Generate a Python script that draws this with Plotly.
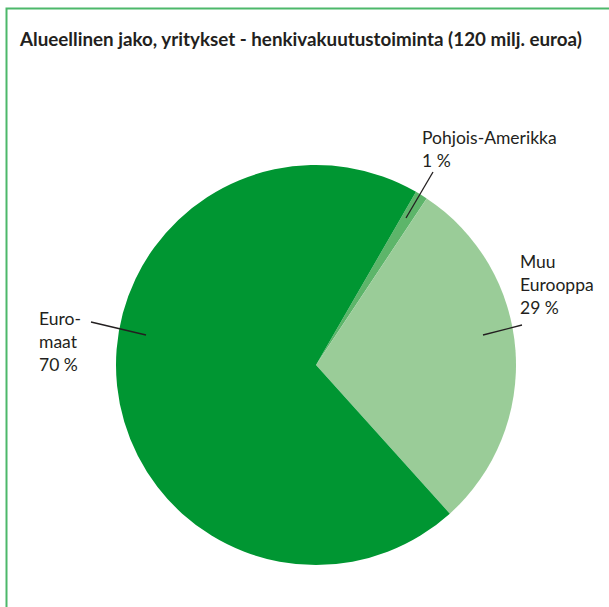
import plotly.graph_objects as go

# Slice data (clockwise from the first slice)
regions = ["Pohjois-Amerikka", "Muu Eurooppa", "Euro-maat"]
shares = [1, 29, 70]
colors = ["#5db56a", "#9acc98", "#009632"]

# Label texts as printed next to the pie
label_texts = ["Pohjois-Amerikka<br>1 %", "Muu<br>Eurooppa<br>29 %", "Euro-<br>maat<br>70 %"]

W, H = 609, 607


def px(x, y):
    # pixel position in the screenshot -> paper coordinates
    return x / W, 1 - y / H


fig = go.Figure()
dx0, dy0 = px(116, 565)
dx1, dy1 = px(516, 165)
fig.add_trace(go.Pie(
    labels=regions,
    values=shares,
    sort=False,
    direction="clockwise",
    rotation=30,
    marker=dict(colors=colors, line=dict(width=0)),
    textinfo="none",
    hoverinfo="label+percent",
    showlegend=False,
    domain=dict(x=[dx0, dx1], y=[dy0, dy1]),
))

# label positions (top-left of text block) and leader lines, in pixels
label_pos = [(420, 125), (518, 249), (37, 306)]
leaders = [((433, 172), (406, 218)), ((522, 325), (483, 335)), ((91, 322), (146, 335))]

for txt, (lx, ly) in zip(label_texts, label_pos):
    x, y = px(lx, ly)
    fig.add_annotation(x=x, y=y, xref="paper", yref="paper", text=txt,
                       showarrow=False, xanchor="left", yanchor="top", align="left",
                       font=dict(family="Lato", size=17.5, color="#231f20"))

for (a, b) in leaders:
    x0, y0 = px(*a)
    x1, y1 = px(*b)
    fig.add_shape(type="line", xref="paper", yref="paper", x0=x0, y0=y0, x1=x1, y1=y1,
                  line=dict(color="#231f20", width=1.3))

# title
tx, ty = px(17, 25)
fig.add_annotation(x=tx, y=ty, xref="paper", yref="paper",
                   text="Alueellinen jako, yritykset - henkivakuutustoiminta (120 milj. euroa)",
                   showarrow=False, xanchor="left", yanchor="top",
                   font=dict(family="Lato", size=18.8, color="#231f20", weight="bold"))

# frame, open to the right and bottom
bx0, by1 = px(6.5, 8.5)
fig.add_shape(type="rect", xref="paper", yref="paper", x0=bx0, y0=-0.05, x1=1.05, y1=by1,
              line=dict(color="#4cb86a", width=2), fillcolor="rgba(0,0,0,0)")

fig.update_layout(
    width=W, height=H,
    margin=dict(l=0, r=0, t=0, b=0),
    paper_bgcolor="white",
    plot_bgcolor="white",
)

# drop the default page margin so the figure sits at the window corner
fig.write_html("out.html", config={"displayModeBar": False},
               post_script="document.body.style.margin='0';")
